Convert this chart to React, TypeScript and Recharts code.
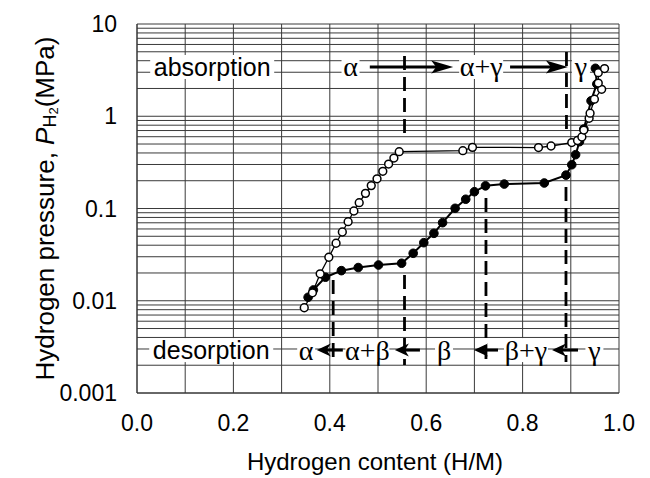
import React from 'react';
import { ComposedChart, Line, XAxis, YAxis, ReferenceLine, ReferenceDot } from 'recharts';

// Absorption (open circles)
const absX = [0.347, 0.364, 0.380, 0.398, 0.413, 0.426, 0.438, 0.450, 0.461, 0.474, 0.486, 0.498, 0.510, 0.522, 0.533, 0.544, 0.676, 0.696, 0.833, 0.859, 0.902, 0.914, 0.923, 0.927, 0.938, 0.940, 0.949, 0.964, 0.957, 0.957, 0.970];
const absP = [0.0084, 0.0122, 0.0196, 0.0296, 0.042, 0.0556, 0.0719, 0.094, 0.1156, 0.146, 0.177, 0.21, 0.253, 0.303, 0.352, 0.413, 0.423, 0.46, 0.458, 0.476, 0.519, 0.546, 0.596, 0.709, 0.95, 1.08, 1.53, 1.96, 2.29, 2.97, 3.29];

// Desorption (filled circles)
const desX = [0.355, 0.366, 0.391, 0.424, 0.459, 0.501, 0.549, 0.573, 0.595, 0.616, 0.634, 0.660, 0.682, 0.700, 0.723, 0.762, 0.845, 0.890, 0.902, 0.910, 0.918, 0.927, 0.942, 0.954, 0.951];
const desP = [0.0109, 0.0131, 0.018, 0.0212, 0.0229, 0.0244, 0.0255, 0.0327, 0.0426, 0.0538, 0.0702, 0.1005, 0.126, 0.152, 0.176, 0.184, 0.189, 0.23, 0.298, 0.383, 0.53, 0.727, 1.47, 2.24, 3.31];

const xTicks = [0, 0.2, 0.4, 0.6, 0.8, 1.0];
const yTicks = [0.001, 0.01, 0.1, 1, 10];
const yTickLabels = ['0.001', '0.01', '0.1', '1', '10'];

const gridX = [0, 0.1, 0.2, 0.3, 0.4, 0.5, 0.6, 0.7, 0.8, 0.9, 1.0];
const decades = [0.001, 0.01, 0.1, 1];
const minorSteps = [1, 2, 3, 4, 5, 6, 7, 8, 9];
const gridY = [...decades.flatMap((d) => minorSteps.map((m) => +(d * m).toPrecision(3))), 10];

// Phase-boundary dashed segments [x, yStart, yEnd]
const dashTop = [
  [0.555, 4.5, 0.61],
  [0.891, 4.97, 0.675],
];
const dashBottom = [
  [0.407, 0.0168, 0.00217],
  [0.555, 0.019, 0.00201],
  [0.724, 0.13, 0.00201],
  [0.890, 0.171, 0.00217],
];

const topRowY = 3.42;
const bottomRowY = 0.00292;

// Arrows [from, to]
const topArrows = [
  [0.483, 0.656],
  [0.774, 0.894],
];
const bottomArrows = [
  [0.427, 0.373],
  [0.587, 0.535],
  [0.749, 0.699],
  [0.915, 0.861],
];

const topLabels = ['absorption', 'α', 'α+γ', 'γ'];
const topLabelX = [0.156, 0.443, 0.714, 0.921];
const bottomLabels = ['desorption', 'α', 'α+β', 'β', 'β+γ', 'γ'];
const bottomLabelX = [0.154, 0.351, 0.478, 0.637, 0.807, 0.949];

const absorption = absX.map((x, i) => ({ x, p: absP[i] }));
const desorption = desX.map((x, i) => ({ x, p: desP[i] }));

const SANS = '"Liberation Sans", Arial, Helvetica, sans-serif';
const SERIF = '"Liberation Serif", "Times New Roman", serif';

const labelWidth = (t: string) => {
  if (t === 'absorption' || t === 'desorption') return 124;
  return t.length === 1 ? 18 : 44;
};

const makeLabelShape = (text: string) => (p: any) => {
  const isWord = text.length > 3;
  const w = labelWidth(text);
  return (
    <g>
      <rect x={p.cx - w / 2} y={p.cy - 12} width={w} height={24} fill="#fff" />
      <text
        x={p.cx}
        y={p.cy}
        textAnchor="middle"
        dominantBaseline="central"
        fontSize={isWord ? 25 : 28}
        fontFamily={isWord ? SANS : SERIF}
        fill="#000"
      >
        {text}
      </text>
    </g>
  );
};

const makeArrowShape = (headLen: number, half: number, notch: number) => (p: any) => {
  const { x1, y1, x2, y2 } = p;
  const dir = x2 >= x1 ? 1 : -1;
  const baseX = x2 - dir * headLen;
  const pts = [
    [x2, y2],
    [baseX, y2 - half],
    [baseX + dir * notch, y2],
    [baseX, y2 + half],
  ]
    .map((q) => q.join(','))
    .join(' ');
  return (
    <g>
      <line x1={x1} y1={y1} x2={x2 - dir * headLen * 0.6} y2={y2} stroke="#000" strokeWidth={3} />
      <polygon points={pts} fill="#000" />
    </g>
  );
};

const YTitle = (props: any) => {
  const vb = props.viewBox || { x: 0, y: 24, width: 137, height: 369 };
  const cx = vb.x + 45;
  const cy = vb.y + vb.height / 2;
  return (
    <text
      transform={`rotate(-90 ${cx} ${cy})`}
      x={cx}
      y={cy}
      textAnchor="middle"
      dominantBaseline="central"
      fontSize={26}
      fontFamily={SANS}
      fill="#000"
    >
      Hydrogen pressure,{' '}
      <tspan fontStyle="italic">P</tspan>
      <tspan fontSize={18} dy={5}>H</tspan>
      <tspan fontSize={13} dy={3}>2</tspan>
      <tspan fontSize={26} dy={-8}>(MPa)</tspan>
    </text>
  );
};

const XTitle = (props: any) => {
  const vb = props.viewBox || { x: 137, y: 393, width: 482, height: 85 };
  return (
    <text
      x={vb.x + vb.width / 2 - 3}
      y={vb.y + 77}
      textAnchor="middle"
      fontSize={24}
      fontFamily={SANS}
      fill="#000"
    >
      Hydrogen content (H/M)
    </text>
  );
};

export default function App() {
  return (
    <div style={{ position: 'absolute', left: 0, top: 0, width: 650, height: 478, background: '#fff' }}>
      <ComposedChart width={650} height={478} margin={{ top: 24, right: 31, left: 0, bottom: 0 }}>
        <XAxis
          dataKey="x"
          type="number"
          domain={[0, 1]}
          ticks={xTicks}
          allowDataOverflow
          height={85}
          tickSize={0}
          tickMargin={22}
          tickLine={false}
          axisLine={{ stroke: '#333' }}
          tickFormatter={(v: number) => v.toFixed(1)}
          tick={{ fontSize: 23, fill: '#000', fontFamily: SANS }}
          label={{ content: XTitle }}
        />
        <YAxis
          type="number"
          scale="log"
          domain={[0.001, 10]}
          ticks={yTicks}
          allowDataOverflow
          width={137}
          tickSize={0}
          tickMargin={20}
          tickLine={false}
          axisLine={{ stroke: '#333' }}
          tickFormatter={(v: number) => yTickLabels[yTicks.indexOf(v)] ?? String(v)}
          tick={{ fontSize: 23, fill: '#000', fontFamily: SANS }}
          label={{ content: YTitle }}
        />

        {gridX.map((v) => (
          <ReferenceLine key={'gx' + v} x={v} stroke="#3a3a3a" strokeWidth={1} ifOverflow="extendDomain" />
        ))}
        {gridY.map((v) => (
          <ReferenceLine key={'gy' + v} y={v} stroke="#3a3a3a" strokeWidth={1} ifOverflow="extendDomain" />
        ))}

        {topLabels.map((t, i) => (
          <ReferenceDot key={'tl' + i} x={topLabelX[i]} y={topRowY} r={1} shape={makeLabelShape(t)} />
        ))}
        {bottomLabels.map((t, i) => (
          <ReferenceDot key={'bl' + i} x={bottomLabelX[i]} y={bottomRowY} r={1} shape={makeLabelShape(t)} />
        ))}

        {topArrows.map((a, i) => (
          <ReferenceLine
            key={'ta' + i}
            segment={[{ x: a[0], y: topRowY }, { x: a[1], y: topRowY }]}
            shape={makeArrowShape(22, 6.5, 5)}
          />
        ))}
        {bottomArrows.map((a, i) => (
          <ReferenceLine
            key={'ba' + i}
            segment={[{ x: a[0], y: bottomRowY }, { x: a[1], y: bottomRowY }]}
            shape={makeArrowShape(14, 6.5, 4)}
          />
        ))}

        {[...dashTop, ...dashBottom].map((d, i) => (
          <ReferenceLine
            key={'d' + i}
            segment={[{ x: d[0], y: d[1] }, { x: d[0], y: d[2] }]}
            stroke="#000"
            strokeWidth={2.8}
            strokeDasharray="14 7"
          />
        ))}

        <Line
          data={desorption}
          dataKey="p"
          type="linear"
          stroke="#000"
          strokeWidth={2}
          dot={{ r: 4.3, fill: '#000', stroke: '#000', strokeWidth: 1 }}
          activeDot={false}
          isAnimationActive={false}
        />
        <Line
          data={absorption}
          dataKey="p"
          type="linear"
          stroke="#000"
          strokeWidth={1.3}
          dot={{ r: 3.9, fill: '#fff', stroke: '#000', strokeWidth: 1.5 }}
          activeDot={false}
          isAnimationActive={false}
        />
      </ComposedChart>
    </div>
  );
}
